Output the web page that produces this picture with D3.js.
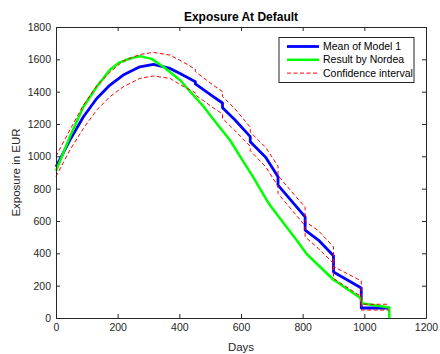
<!DOCTYPE html>
<html>
<head>
<meta charset="utf-8">
<script src="https://cdn.jsdelivr.net/npm/d3@7"></script>
<style>
    body { margin: 0; background: #fff; }
    svg { display: block; font-family: 'Liberation Sans', Arial, sans-serif; }
</style>
</head>
<body>
<div id="chart"></div>
<script>
// days shared by the model mean and its confidence band (repeated days are the quarterly steps)
const modelDays = [0, 45, 89, 132, 175, 218, 272, 316, 370, 402, 428, 452, 452, 510, 540, 540, 580, 630, 630, 680, 720, 720, 808, 808, 851, 900, 900, 990, 990, 1081];
const modelMean = [935, 1100, 1245, 1358, 1441, 1503, 1554, 1569, 1544, 1512, 1486, 1462, 1448, 1369, 1330, 1300, 1226, 1122, 1090, 995, 874, 822, 626, 544, 482, 385, 285, 186, 62, 62];
const ciUpper = [1000, 1163, 1318, 1435, 1520, 1590, 1630, 1643, 1626, 1594, 1566, 1538, 1524, 1440, 1400, 1370, 1295, 1180, 1150, 1055, 940, 880, 685, 598, 540, 440, 318, 230, 85, 85];
const ciLower = [875, 1039, 1173, 1286, 1369, 1430, 1482, 1497, 1482, 1444, 1418, 1393, 1380, 1300, 1262, 1235, 1160, 1062, 1035, 935, 815, 770, 570, 502, 430, 338, 245, 132, 49, 49];

const nordeaDays = [0, 45, 89, 132, 175, 205, 240, 272, 310, 348, 402, 440, 480, 510, 564, 600, 640, 683, 697, 780, 813, 899, 986, 995, 1081, 1081];
const nordeaValues = [910, 1121, 1307, 1430, 1535, 1580, 1605, 1620, 1603, 1554, 1472, 1390, 1305, 1230, 1101, 990, 870, 730, 690, 482, 396, 238, 125, 90, 65, 0];

const xTicks = [0, 200, 400, 600, 800, 1000, 1200];
const yTicks = [0, 200, 400, 600, 800, 1000, 1200, 1400, 1600, 1800];

const legendLabels = ['Mean of Model 1', 'Result by Nordea', 'Confidence interval'];

class ExposureChart {
    constructor(selector, totalWidth, totalHeight) {
        this.axisColour = '#262626';
        const margin = { top: 27, right: 14, bottom: 36, left: 56 };
        this.width = totalWidth - margin.left - margin.right;
        this.height = totalHeight - margin.top - margin.bottom;

        this.root = d3.select(selector)
            .append('svg')
            .attr('width', totalWidth)
            .attr('height', totalHeight);
        this.svg = this.root.append('g')
            .attr('transform', 'translate(' + margin.left + ',' + margin.top + ')');

        this.x = d3.scaleLinear().domain([0, 1200]).range([0, this.width]);
        this.y = d3.scaleLinear().domain([0, 1800]).range([this.height, 0]);

        this.drawLine(modelDays, modelMean, '#0000ff', 2.8, null);
        this.drawLine(nordeaDays, nordeaValues, '#00ff00', 2.5, null);
        this.drawLine(modelDays, ciUpper, '#ff0000', 1, '4,2.5');
        this.drawLine(modelDays, ciLower, '#ff0000', 1, '4,2.5');

        this.axes();
        this.labels();
        this.legend();
    }

    drawLine(days, values, colour, width, dash) {
        const pts = days.map((d, i) => [d, values[i]]);
        this.svg.append('path')
            .datum(pts)
            .attr('fill', 'none')
            .attr('stroke', colour)
            .attr('stroke-width', width)
            .attr('stroke-linejoin', 'round')
            .attr('stroke-dasharray', dash)
            .attr('d', d3.line()
                .x((d) => this.x(d[0]))
                .y((d) => this.y(d[1])));
    }

    styleAxis(axis) {
        axis.selectAll('text')
            .attr('fill', this.axisColour)
            .style('font-size', '10.5px')
            .style('font-family', "'Liberation Sans', Arial, sans-serif");
        axis.selectAll('line').attr('stroke', this.axisColour);
        axis.select('.domain').attr('stroke', this.axisColour);
    }

    axes() {
        const fmt = d3.format('d');
        const bottom = this.svg.append('g')
            .attr('transform', 'translate(0,' + this.height + ')')
            .call(d3.axisBottom(this.x).tickValues(xTicks).tickFormat(fmt)
                .tickSize(-4).tickSizeOuter(0).tickPadding(6));
        this.styleAxis(bottom);

        const left = this.svg.append('g')
            .call(d3.axisLeft(this.y).tickValues(yTicks).tickFormat(fmt)
                .tickSize(-4).tickSizeOuter(0).tickPadding(5));
        this.styleAxis(left);

        const top = this.svg.append('g')
            .call(d3.axisTop(this.x).tickValues(xTicks).tickSize(-4).tickSizeOuter(0).tickFormat(''));
        this.styleAxis(top);

        const right = this.svg.append('g')
            .attr('transform', 'translate(' + this.width + ',0)')
            .call(d3.axisRight(this.y).tickValues(yTicks).tickSize(-4).tickSizeOuter(0).tickFormat(''));
        this.styleAxis(right);
    }

    labels() {
        this.svg.append('text')
            .attr('x', this.width / 2)
            .attr('y', -6)
            .attr('text-anchor', 'middle')
            .style('font-size', '12px')
            .style('font-weight', 'bold')
            .attr('fill', '#000')
            .text('Exposure At Default');

        this.svg.append('text')
            .attr('x', this.width / 2)
            .attr('y', this.height + 33)
            .attr('text-anchor', 'middle')
            .style('font-size', '11.5px')
            .attr('fill', this.axisColour)
            .text('Days');

        this.svg.append('text')
            .attr('transform', 'translate(-36,' + this.height / 2 + ') rotate(-90)')
            .attr('text-anchor', 'middle')
            .style('font-size', '11.5px')
            .attr('fill', this.axisColour)
            .text('Exposure in EUR');
    }

    legend() {
        const g = this.svg.append('g').attr('transform', 'translate(223,10.5)');
        g.append('rect')
            .attr('width', 135)
            .attr('height', 45)
            .attr('fill', '#fff')
            .attr('stroke', this.axisColour)
            .attr('stroke-width', 1);

        const colours = ['#0000ff', '#00ff00', '#ff0000'];
        const widths = [2.8, 2.5, 1];
        const dashes = [null, null, '4,2.5'];
        legendLabels.forEach((label, i) => {
            const yPos = 9 + i * 13.3;
            g.append('line')
                .attr('x1', 8).attr('x2', 40)
                .attr('y1', yPos).attr('y2', yPos)
                .attr('stroke', colours[i])
                .attr('stroke-width', widths[i])
                .attr('stroke-dasharray', dashes[i]);
            g.append('text')
                .attr('x', 44)
                .attr('y', yPos + 3.6)
                .style('font-size', '10.5px')
                .attr('fill', '#000')
                .text(label);
        });
    }
}

new ExposureChart('#chart', 440, 354);
</script>
</body>
</html>
